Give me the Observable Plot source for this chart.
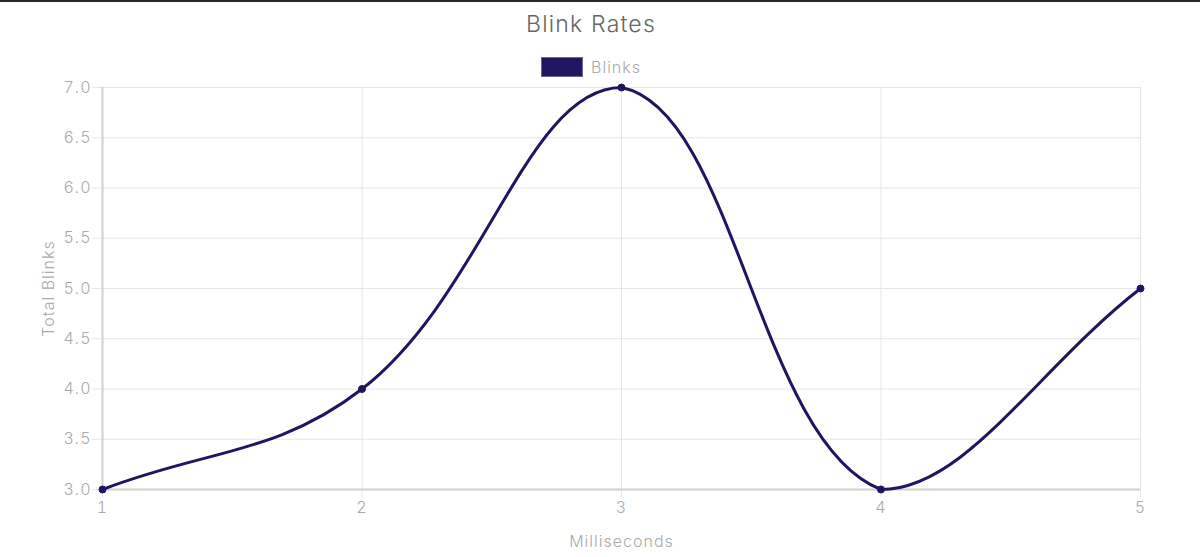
<!DOCTYPE html>
<html>
<head>
<meta charset="utf-8">
<script src="https://cdn.jsdelivr.net/npm/d3@7"></script>
<script src="https://cdn.jsdelivr.net/npm/@observablehq/plot@0.6"></script>
<style>
  html, body { margin: 0; padding: 0; background: #fff; }
  body { width: 1200px; height: 557px; position: relative; overflow: hidden; font-family: Inter, "Open Sans", sans-serif; font-weight: 300; }
  #topline { position: absolute; left: 0; top: 0; width: 1200px; height: 2px; background: #2a2a2a; }
  #title { position: absolute; left: 0; width: 1182px; top: 10px; text-align: center; font-size: 23px; line-height: 28px; color: #666; letter-spacing: 1.2px; }
  #legend { position: absolute; left: 0; width: 1182px; top: 57px; height: 20px; display: flex; justify-content: center; align-items: center; gap: 8px; }
  #legend .sw { width: 40px; height: 18px; background: #1e1660; border: 1px solid #6b6896; }
  #legend .lb { font-size: 16px; line-height: 20px; color: #aaa; letter-spacing: 1px; }
  #chart { position: absolute; left: 0; top: 78px; }
</style>
</head>
<body>
<div id="topline"></div>
<div id="title">Blink Rates</div>
<div id="legend"><div class="sw"></div><div class="lb">Blinks</div></div>
<div id="chart"></div>
<script>
const seriesName = "Blinks";
const milliseconds = [1, 2, 3, 4, 5];
const blinks = [3, 4, 7, 3, 5];
const yTicks = [3.0, 3.5, 4.0, 4.5, 5.0, 5.5, 6.0, 6.5, 7.0];
const xTicks = [1, 2, 3, 4, 5];

const data = milliseconds.map((m, i) => ({ x: m, y: blinks[i] }));

// Chart.js-style bezier (tension 0.4, control points capped to the chart area)
function chartjsCurve(tension) {
  return function (context) {
    return {
      areaStart() {}, areaEnd() {},
      lineStart() { this._pts = []; },
      point(x, y) { this._pts.push({ x: +x, y: +y }); },
      lineEnd() {
        const p = this._pts, n = p.length;
        if (!n) return;
        const xs = p.map(d => d.x), ys = p.map(d => d.y);
        const minX = Math.min(...xs), maxX = Math.max(...xs), minY = Math.min(...ys), maxY = Math.max(...ys);
        const cap = (v, a, b) => Math.max(Math.min(v, b), a);
        const cps = p.map((cur, i) => {
          const prev = p[Math.max(i - 1, 0)], next = p[Math.min(i + 1, n - 1)];
          const d01 = Math.hypot(cur.x - prev.x, cur.y - prev.y);
          const d12 = Math.hypot(next.x - cur.x, next.y - cur.y);
          let s01 = d01 / (d01 + d12), s12 = d12 / (d01 + d12);
          if (isNaN(s01)) s01 = 0; if (isNaN(s12)) s12 = 0;
          const fa = tension * s01, fb = tension * s12;
          return {
            px: cap(cur.x - fa * (next.x - prev.x), minX, maxX),
            py: cap(cur.y - fa * (next.y - prev.y), minY, maxY),
            nx: cap(cur.x + fb * (next.x - prev.x), minX, maxX),
            ny: cap(cur.y + fb * (next.y - prev.y), minY, maxY)
          };
        });
        context.moveTo(p[0].x, p[0].y);
        for (let i = 1; i < n; i++) {
          context.bezierCurveTo(cps[i - 1].nx, cps[i - 1].ny, cps[i].px, cps[i].py, p[i].x, p[i].y);
        }
      }
    };
  };
}

const gridColor = "#e6e6e6";
const axisColor = "#d0d0d0";
const textColor = "#aaa";
const lineColor = "#1e1660";

const chart = Plot.plot({
  width: 1200,
  height: 479,
  marginLeft: 102,
  marginRight: 60,
  marginTop: 9,
  marginBottom: 68,
  style: { fontFamily: "Inter, 'Open Sans', sans-serif", fontWeight: 300, fontSize: "16px", background: "#fff", letterSpacing: "1px" },
  x: { domain: [1, 5], axis: null },
  y: { domain: [3, 7], axis: null },
  marks: [
    Plot.gridY(yTicks, { stroke: gridColor, strokeOpacity: 1 }),
    Plot.gridX(xTicks, { stroke: gridColor, strokeOpacity: 1 }),
    Plot.axisY(yTicks, { tickSize: 10, tickPadding: 1, stroke: gridColor, fill: textColor, tickFormat: d3.format(".1f"), label: null, fontSize: 16 }),
    Plot.axisX(xTicks, { tickSize: 8, tickPadding: 4, stroke: gridColor, fill: textColor, tickFormat: d3.format("d"), label: null, fontSize: 16 }),
    Plot.ruleX([1], { stroke: axisColor, strokeWidth: 2 }),
    Plot.ruleY([3], { stroke: axisColor, strokeWidth: 2 }),
    Plot.text(["Total Blinks"], { frameAnchor: "left", textAnchor: "middle", lineAnchor: "middle", rotate: -90, dx: -54, fill: textColor, fontSize: 16 }),
    Plot.text(["Milliseconds"], { frameAnchor: "bottom", lineAnchor: "middle", dy: 52, fill: textColor, fontSize: 16 }),
    Plot.line(data, { x: "x", y: "y", stroke: lineColor, strokeWidth: 3, curve: chartjsCurve(0.4) }),
    Plot.dot(data, { x: "x", y: "y", r: 3.5, fill: lineColor, stroke: lineColor, strokeWidth: 1 })
  ]
});
document.getElementById("chart").appendChild(chart);
</script>
</body>
</html>
